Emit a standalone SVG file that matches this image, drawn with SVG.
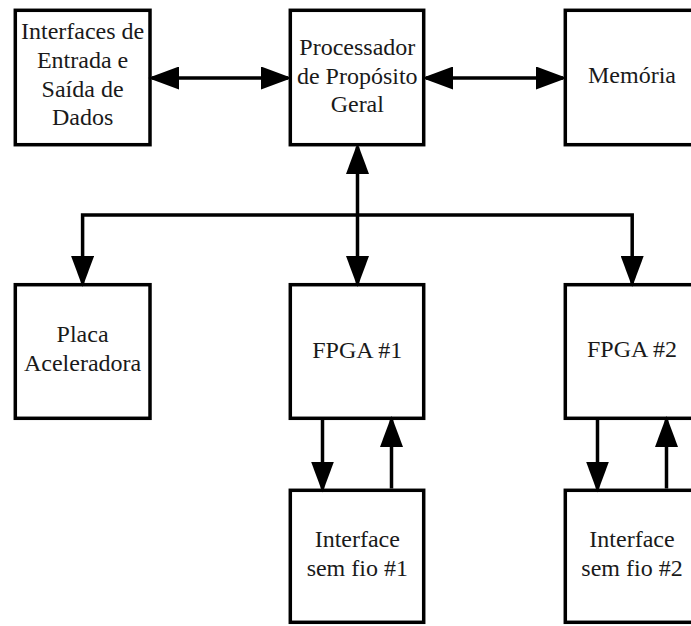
<svg xmlns="http://www.w3.org/2000/svg" width="691" height="626" viewBox="0 0 691 626">
  <style>
    .box { fill: #ffffff; stroke: #000000; stroke-width: 3.5; }
    .lbl { font-size: 24px; fill: #1a1a1a; text-anchor: middle; }
    .wire { fill: none; stroke: #000000; stroke-width: 3.5; stroke-linecap: butt; }
  </style>
  <defs>
    <marker id="head" markerUnits="userSpaceOnUse" markerWidth="31" markerHeight="23" refX="27" refY="11.5" orient="auto-start-reverse">
      <path d="M0,0 L31,11.5 L0,23 Z" fill="#000000"/>
    </marker>
  </defs>

  <rect width="691" height="626" fill="#ffffff"/>

  <g font-family="'Liberation Serif', 'Times New Roman', serif">
  <!-- top row -->
  <g id="io">
    <rect class="box" x="15.3" y="10.3" width="134.7" height="134.4"/>
    <text class="lbl" x="82.6" y="39.3">Interfaces de</text>
    <text class="lbl" x="82.6" y="68">Entrada e</text>
    <text class="lbl" x="82.6" y="96.7">Saída de</text>
    <text class="lbl" x="82.6" y="125.3">Dados</text>
  </g>
  <g id="cpu">
    <rect class="box" x="290.3" y="10.3" width="133.4" height="134.4"/>
    <text class="lbl" x="357.3" y="55">Processador</text>
    <text class="lbl" x="357.3" y="83.5">de Propósito</text>
    <text class="lbl" x="357.3" y="112">Geral</text>
  </g>
  <g id="mem">
    <rect class="box" x="565.3" y="10.3" width="134" height="134.4"/>
    <text class="lbl" x="632" y="83">Memória</text>
  </g>

  <!-- middle row -->
  <g id="accel">
    <rect class="box" x="15.3" y="284.7" width="134.7" height="133.6"/>
    <text class="lbl" x="82.6" y="342.3">Placa</text>
    <text class="lbl" x="82.6" y="371">Aceleradora</text>
  </g>
  <g id="fpga1">
    <rect class="box" x="290.3" y="284.7" width="133.4" height="133.6"/>
    <text class="lbl" x="357.3" y="357.7">FPGA #1</text>
  </g>
  <g id="fpga2">
    <rect class="box" x="565.3" y="284.7" width="134" height="133.6"/>
    <text class="lbl" x="632" y="357">FPGA #2</text>
  </g>

  <!-- bottom row -->
  <g id="radio1">
    <rect class="box" x="290.3" y="490.3" width="133.4" height="132"/>
    <text class="lbl" x="357.3" y="547">Interface</text>
    <text class="lbl" x="357.3" y="576">sem fio #1</text>
  </g>
  <g id="radio2">
    <rect class="box" x="565.3" y="490.3" width="134" height="132"/>
    <text class="lbl" x="632" y="547">Interface</text>
    <text class="lbl" x="632" y="576">sem fio #2</text>
  </g>
  </g>

  <!-- connectors -->
  <g id="connectors">
    <path class="wire" d="M152,78 L288,78" marker-start="url(#head)" marker-end="url(#head)"/>
    <path class="wire" d="M426,78 L563,78" marker-start="url(#head)" marker-end="url(#head)"/>
    <path class="wire" d="M357.5,147 L357.5,283" marker-start="url(#head)" marker-end="url(#head)"/>
    <path class="wire" d="M82.6,283 L82.6,215 L632.2,215 L632.2,283" marker-start="url(#head)" marker-end="url(#head)"/>
    <path class="wire" d="M322.5,420 L322.5,488.5" marker-end="url(#head)"/>
    <path class="wire" d="M391.5,488.5 L391.5,420" marker-end="url(#head)"/>
    <path class="wire" d="M597.5,420 L597.5,488.5" marker-end="url(#head)"/>
    <path class="wire" d="M666.5,488.5 L666.5,420" marker-end="url(#head)"/>
  </g>
</svg>
